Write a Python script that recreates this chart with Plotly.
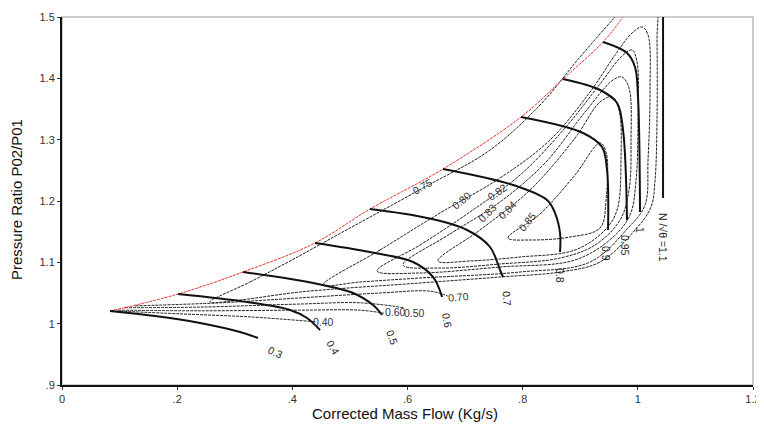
import plotly.graph_objects as go

# ---------------- data ----------------
surge_x = [0.0834, 0.2015, 0.3143, 0.4394, 0.5349, 0.6617, 0.7972, 0.8701, 0.9396, 0.9743]
surge_y = [1.0206, 1.0483, 1.0842, 1.1315, 1.1869, 1.2522, 1.3369, 1.3989, 1.4592, 1.5000]

speed_labels = ["0.3", "0.4", "0.5", "0.6", "0.7", "0.8", "0.9", "0.95", "1", "N /\u221a\u03b8 =1.1"]
speed_x = [
    [0.0834, 0.1615, 0.2397, 0.3091, 0.3404],
    [0.2015, 0.3213, 0.3960, 0.4255, 0.4481],
    [0.3143, 0.4359, 0.5054, 0.5401, 0.5558],
    [0.4394, 0.5349, 0.6096, 0.6443, 0.6600],
    [0.5349, 0.6339, 0.7034, 0.7433, 0.7607, 0.7659],
    [0.6617, 0.7833, 0.8423, 0.8562, 0.8649, 0.8649],
    [0.7972, 0.9048, 0.9378, 0.9465, 0.9483],
    [0.8701, 0.9344, 0.9639, 0.9743, 0.9812],
    [0.9396, 0.9812, 0.9951, 1.0003, 1.0038],
    [1.0438, 1.0438],
]
speed_y = [
    [1.0206, 1.0125, 1.0011, 0.9864, 0.9766],
    [1.0483, 1.0353, 1.0223, 1.0092, 0.9896],
    [1.0842, 1.0663, 1.0500, 1.0304, 1.0141],
    [1.1315, 1.1168, 1.1005, 1.0761, 1.0435],
    [1.1869, 1.1723, 1.1527, 1.1250, 1.0875, 1.0761],
    [1.2522, 1.2261, 1.2016, 1.1804, 1.1478, 1.1168],
    [1.3369, 1.3109, 1.2880, 1.2505, 1.1527],
    [1.3989, 1.3810, 1.3598, 1.3157, 1.1690],
    [1.4592, 1.4413, 1.4185, 1.3696, 1.1820],
    [1.5000, 1.2049],
]
speed_lab_x = [0.3699, 0.4707, 0.5731, 0.6686, 0.7728, 0.8649, 0.9448, 0.9778, 1.0038, 1.0438]
speed_lab_y = [0.9538, 0.9619, 0.9782, 1.0059, 1.0418, 1.0793, 1.1152, 1.1282, 1.1527, 1.1413]
speed_lab_rot = [25, 60, 70, 80, 85, 90, 90, 90, 90, 90]

eff_levels = ["0.40", "0.50", "0.60", "0.70", "0.75", "0.80", "0.82", "0.83", "0.84", "0.85"]
eff_x = [
    [0.087, 0.205, 0.327, 0.441],
    [0.097, 0.240, 0.413, 0.518, 0.559],
    [0.109, 0.240, 0.413, 0.518, 0.594],
    [0.127, 0.274, 0.413, 0.552, 0.639, 0.670],
    [0.2570, 0.3265, 0.3960, 0.5002, 0.6269, 0.7433, 0.8301, 0.8996, 0.9604, 1.0038, 1.0316,
     1.0333, 1.0333, 1.0299, 1.0229, 0.9951, 0.9343, 0.8649, 0.7607, 0.6217, 0.4133, 0.3091, 0.2570],
    [0.4533, 0.5523, 0.6565, 0.7607, 0.8475, 0.9170, 0.9604, 0.9899, 1.0073, 1.0177, 1.0212,
     1.0177, 1.0125, 0.9830, 0.9170, 0.7954, 0.6217, 0.5175, 0.4533],
    [0.5471, 0.6217, 0.7086, 0.7954, 0.8736, 0.9343, 0.9725, 0.9899, 0.9986, 1.0003, 0.9969,
     0.9864, 0.9552, 0.8909, 0.7607, 0.6217, 0.5471],
    [0.5922, 0.6738, 0.7607, 0.8388, 0.9083, 0.9569, 0.9725, 0.9847, 0.9882, 0.9847, 0.9691,
     0.9257, 0.8649, 0.7607, 0.6565, 0.5922],
    [0.6530, 0.7259, 0.8128, 0.8909, 0.9343, 0.9552, 0.9673, 0.9708, 0.9639, 0.9430, 0.8909,
     0.7954, 0.7086, 0.6530],
    [0.7746, 0.8301, 0.8909, 0.9343, 0.9448, 0.9448, 0.9343, 0.8822, 0.8128, 0.7746],
]
eff_y = [
    [1.021, 1.016, 1.011, 1.003],
    [1.022, 1.021, 1.022, 1.022, 1.017],
    [1.026, 1.027, 1.032, 1.034, 1.026],
    [1.029, 1.034, 1.042, 1.050, 1.053, 1.045],
    [1.0353, 1.0679, 1.1022, 1.1560, 1.2212, 1.2831, 1.3565, 1.4348, 1.5000, 1.5440, 1.5196,
     1.4625, 1.3321, 1.2342, 1.1902, 1.1527, 1.1005, 1.0842, 1.0761, 1.0663, 1.0516, 1.0386, 1.0353],
    [1.0630, 1.1201, 1.1804, 1.2375, 1.2995, 1.3777, 1.4380, 1.4739, 1.4837, 1.4707, 1.3810,
     1.2668, 1.1935, 1.1560, 1.1005, 1.0842, 1.0744, 1.0679, 1.0630],
    [1.0859, 1.1282, 1.1821, 1.2424, 1.3190, 1.3908, 1.4364, 1.4462, 1.4266, 1.3321, 1.2342,
     1.1772, 1.1397, 1.1038, 1.0924, 1.0826, 1.0859],
    [1.0956, 1.1462, 1.1984, 1.2619, 1.3451, 1.3973, 1.4022, 1.3842, 1.2995, 1.2179, 1.1690,
     1.1282, 1.1070, 1.0973, 1.0907, 1.0956],
    [1.1022, 1.1527, 1.2179, 1.3027, 1.3614, 1.3696, 1.3484, 1.2668, 1.1853, 1.1527, 1.1201,
     1.1087, 1.1022, 1.1022],
    [1.1397, 1.1788, 1.2424, 1.2946, 1.2799, 1.2016, 1.1560, 1.1413, 1.1364, 1.1397],
]
eff_lab_x = [0.4533, 0.6130, 0.5783, 0.6877, 0.6269, 0.6946, 0.7555, 0.7381, 0.7728, 0.8076]
eff_lab_y = [1.0027, 1.0174, 1.0190, 1.0435, 1.2244, 1.2016, 1.2147, 1.1804, 1.1853, 1.1658]
eff_lab_rot = [0, 0, 0, -5, -30, -40, -35, -45, -45, -50]

x_ticks = [0, 0.2, 0.4, 0.6, 0.8, 1.0, 1.2]
x_tick_text = ["0", ".2", ".4", ".6", ".8", "1", "1.2"]
y_ticks = [0.9, 1.0, 1.1, 1.2, 1.3, 1.4, 1.5]
y_tick_text = [".9", "1", "1.1", "1.2", "1.3", "1.4", "1.5"]
x_title = "Corrected Mass Flow (Kg/s)"
y_title = "Pressure Ratio P02/P01"

# ---------------- figure ----------------
fig = go.Figure()

for xs, ys in zip(eff_x, eff_y):
    fig.add_trace(go.Scatter(x=xs, y=ys, mode="lines", line_shape="spline",
                             line=dict(color="#222222", width=1, dash="3px,1px"),
                             hoverinfo="skip", showlegend=False))

fig.add_trace(go.Scatter(x=surge_x, y=surge_y, mode="lines", line_shape="spline",
                         line=dict(color="#e8332a", width=1, dash="3px,1px"),
                         hoverinfo="skip", showlegend=False))

for xs, ys in zip(speed_x, speed_y):
    fig.add_trace(go.Scatter(x=xs, y=ys, mode="lines", line_shape="spline",
                             line=dict(color="#111111", width=2),
                             hoverinfo="skip", showlegend=False))

for t, x, y, r in zip(speed_labels, speed_lab_x, speed_lab_y, speed_lab_rot):
    fig.add_annotation(x=x, y=y, text=t, showarrow=False, textangle=r,
                       font=dict(family="Arial, Liberation Sans", size=10.5, color="#222222"))

for t, x, y, r in zip(eff_levels, eff_lab_x, eff_lab_y, eff_lab_rot):
    fig.add_annotation(x=x, y=y, text=t, showarrow=False, textangle=r,
                       font=dict(family="Arial, Liberation Sans", size=10.5, color="#333333"))

# axis titles
fig.add_annotation(xref="paper", yref="paper", x=0.496, y=-0.077, text=x_title, showarrow=False,
                   xanchor="center", yanchor="middle",
                   font=dict(family="Arial, Liberation Sans", size=15, color="#111111"))
fig.add_annotation(xref="paper", yref="paper", x=-0.065, y=0.503, text=y_title, showarrow=False,
                   xanchor="center", yanchor="middle", textangle=-90,
                   font=dict(family="Arial, Liberation Sans", size=15, color="#111111"))

# grey frame on top/right
fig.add_shape(type="rect", xref="paper", yref="paper", x0=0, y0=0, x1=1, y1=1,
              line=dict(color="#cccccc", width=2), layer="below")

# page body has an 8px default margin -> figure sized to fit the 764x428 window
fig.update_layout(
    width=756, height=420,
    margin=dict(l=54, r=11, t=9, b=43),
    paper_bgcolor="white", plot_bgcolor="white",
    font=dict(family="Arial, Liberation Sans", color="#222222"),
    xaxis=dict(range=[0, 1.2], tickvals=x_ticks, ticktext=x_tick_text, automargin=False,
               showgrid=False, zeroline=False, showline=True, linecolor="#111111", linewidth=2,
               ticks="outside", ticklen=3, tickcolor="#333333", ticklabeloverflow="allow",
               tickfont=dict(size=11, color="#333333")),
    yaxis=dict(range=[0.9, 1.5], tickvals=y_ticks, ticktext=y_tick_text, automargin=False,
               showgrid=False, zeroline=False, showline=True, linecolor="#111111", linewidth=2,
               ticks="outside", ticklen=3, tickcolor="#333333",
               tickfont=dict(size=11, color="#333333")),
)

fig.write_html("out.html")
